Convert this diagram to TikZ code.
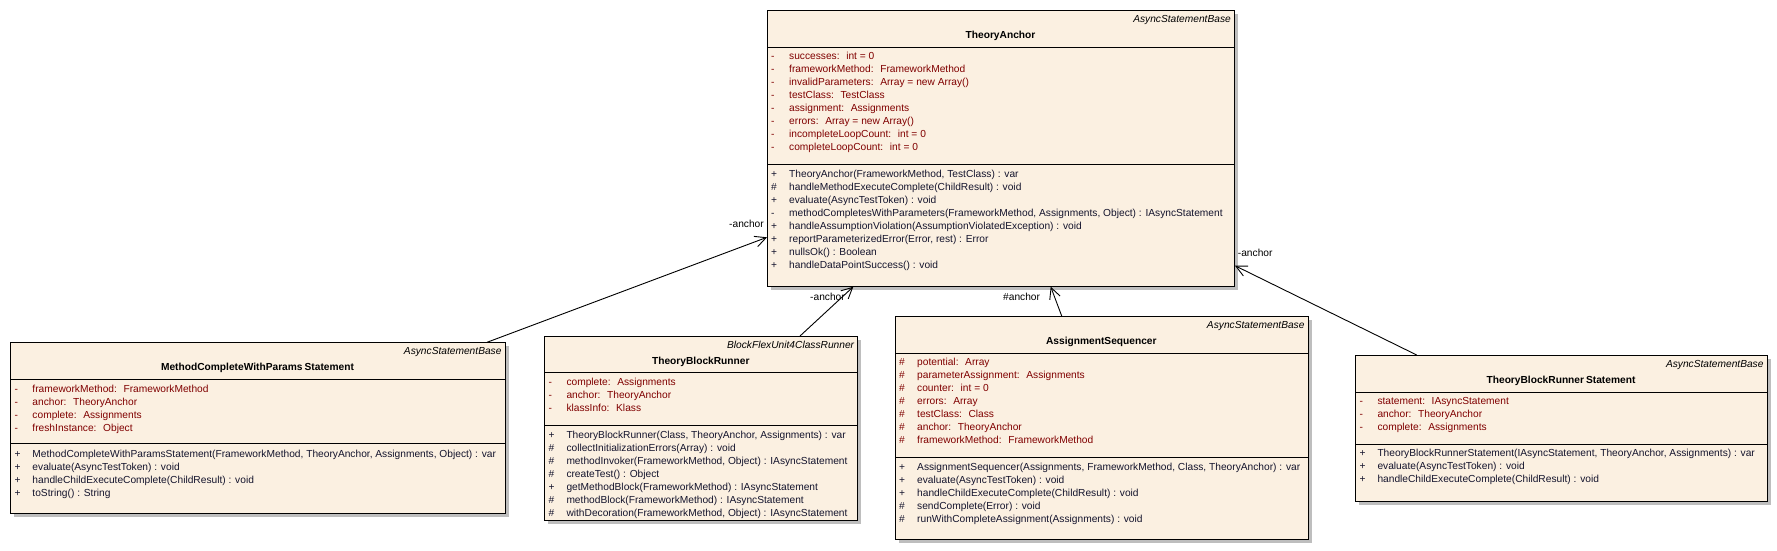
\documentclass[tikz,border=0pt]{standalone}
\usepackage{fontspec}
\setmainfont{Liberation Sans}
\usetikzlibrary{arrows.meta,calc}
\definecolor{classfill}{RGB}{251,240,225}
\definecolor{attrred}{RGB}{128,0,0}
\definecolor{methink}{RGB}{20,20,45}
\definecolor{shadowgray}{RGB}{190,190,190}
\tikzset{
  classbox/.style={draw=black, fill=classfill, line width=1pt, inner sep=0pt, rectangle},
  sepline/.style={draw=black, line width=1pt},
  umltext/.style={inner sep=0pt, font=\fontsize{10.2}{12}\selectfont},
  member/.style={umltext, anchor=mid west},
  stereo/.style={umltext, anchor=mid east, font=\fontsize{10.2}{12}\selectfont\itshape},
  cname/.style={umltext, anchor=mid, font=\fontsize{10.2}{12}\selectfont\bfseries},
  rolelbl/.style={umltext, text=black},
  assoc/.style={draw=black, line width=0.9pt, -{Straight Barb[length=11pt,width=11pt]}},
}
% box: name, left, top, right, bottom, sep1, sep2
\newcommand\umlbox[7]{%
  \def\bl{#2}\def\bt{#3}\def\br{#4}%
  \fill[shadowgray] (#2+4,#3+4) rectangle (#4+4,#5+4);
  \node[classbox, minimum width=#4pt-#2pt, minimum height=#5pt-#3pt, anchor=north west] (#1) at (#2,#3) {};
  \draw[sepline] (#2,#6) -- (#4,#6);
  \draw[sepline] (#2,#7) -- (#4,#7);
}
% head: name prefix, stereotype, class name
\newcommand\umlhead[3]{%
  \node[stereo] (#1-st) at (\br-3,\bt+9.5) {#2};
  \node[cname] (#1-nm) at ({(\bl+\br)/2},\bt+25.5) {#3};
}
\newcommand\startrows[1]{\pgfmathsetmacro\rowy{#1}}
% row: node name, colour, visibility, text
\newcommand\umlrow[4]{%
  \node[member, text=#2] (#1) at (\bl+4,\rowy) {\makebox[18pt][l]{#3}#4};
  \pgfmathsetmacro\rowy{\rowy+13}%
}
\begin{document}
\begin{tikzpicture}[x=1pt,y=-1pt]
\useasboundingbox (0,0) rectangle (1777,550);
\fill[white] (0,0) rectangle (1777,550);

% ---------------- TheoryAnchor
\umlbox{ta}{767}{10.3}{1234}{285.7}{47.7}{164.7}
\umlhead{ta}{AsyncStatementBase}{TheoryAnchor}
\startrows{57.3}
\umlrow{ta-a1}{attrred}{-}{successes:~ int = 0}
\umlrow{ta-a2}{attrred}{-}{frameworkMethod:~ FrameworkMethod}
\umlrow{ta-a3}{attrred}{-}{invalidParameters:~ Array = new Array()}
\umlrow{ta-a4}{attrred}{-}{testClass:~ TestClass}
\umlrow{ta-a5}{attrred}{-}{assignment:~ Assignments}
\umlrow{ta-a6}{attrred}{-}{errors:~ Array = new Array()}
\umlrow{ta-a7}{attrred}{-}{incompleteLoopCount:~ int = 0}
\umlrow{ta-a8}{attrred}{-}{completeLoopCount:~ int = 0}
\startrows{174.7}
\umlrow{ta-m1}{methink}{+}{TheoryAnchor(FrameworkMethod, TestClass) : var}
\umlrow{ta-m2}{methink}{\#}{handleMethodExecuteComplete(ChildResult) : void}
\umlrow{ta-m3}{methink}{+}{evaluate(AsyncTestToken) : void}
\umlrow{ta-m4}{methink}{-}{methodCompletesWithParameters(FrameworkMethod, Assignments, Object) : IAsyncStatement}
\umlrow{ta-m5}{methink}{+}{handleAssumptionViolation(AssumptionViolatedException) : void}
\umlrow{ta-m6}{methink}{+}{reportParameterizedError(Error, rest) : Error}
\umlrow{ta-m7}{methink}{+}{nullsOk() : Boolean}
\umlrow{ta-m8}{methink}{+}{handleDataPointSuccess() : void}

% ---------------- MethodCompleteWithParamsStatement
\umlbox{mc}{10.3}{342.3}{504.7}{512.7}{379}{443.3}
\umlhead{mc}{AsyncStatementBase}{MethodCompleteWithParams\kern2pt Statement}
\startrows{390}
\umlrow{mc-a1}{attrred}{-}{frameworkMethod:~ FrameworkMethod}
\umlrow{mc-a2}{attrred}{-}{anchor:~ TheoryAnchor}
\umlrow{mc-a3}{attrred}{-}{complete:~ Assignments}
\umlrow{mc-a4}{attrred}{-}{freshInstance:~ Object}
\startrows{455}
\umlrow{mc-m1}{methink}{+}{MethodCompleteWithParamsStatement(FrameworkMethod, TheoryAnchor, Assignments, Object) : var}
\umlrow{mc-m2}{methink}{+}{evaluate(AsyncTestToken) : void}
\umlrow{mc-m3}{methink}{+}{handleChildExecuteComplete(ChildResult) : void}
\umlrow{mc-m4}{methink}{+}{toString() : String}

% ---------------- TheoryBlockRunner
\umlbox{tbr}{544.3}{336}{857.3}{520}{372.3}{425.3}
\umlhead{tbr}{BlockFlexUnit4ClassRunner}{TheoryBlockRunner}
\startrows{383.3}
\umlrow{tbr-a1}{attrred}{-}{complete:~ Assignments}
\umlrow{tbr-a2}{attrred}{-}{anchor:~ TheoryAnchor}
\umlrow{tbr-a3}{attrred}{-}{klassInfo:~ Klass}
\startrows{436}
\umlrow{tbr-m1}{methink}{+}{TheoryBlockRunner(Class, TheoryAnchor, Assignments) : var}
\umlrow{tbr-m2}{methink}{\#}{collectInitializationErrors(Array) : void}
\umlrow{tbr-m3}{methink}{\#}{methodInvoker(FrameworkMethod, Object) : IAsyncStatement}
\umlrow{tbr-m4}{methink}{\#}{createTest() : Object}
\umlrow{tbr-m5}{methink}{+}{getMethodBlock(FrameworkMethod) : IAsyncStatement}
\umlrow{tbr-m6}{methink}{\#}{methodBlock(FrameworkMethod) : IAsyncStatement}
\umlrow{tbr-m7}{methink}{\#}{withDecoration(FrameworkMethod, Object) : IAsyncStatement}

% ---------------- AssignmentSequencer
\umlbox{as}{895}{316}{1307.7}{539.3}{353.3}{457.3}
\umlhead{as}{AsyncStatementBase}{AssignmentSequencer}
\startrows{363.3}
\umlrow{as-a1}{attrred}{\#}{potential:~ Array}
\umlrow{as-a2}{attrred}{\#}{parameterAssignment:~ Assignments}
\umlrow{as-a3}{attrred}{\#}{counter:~ int = 0}
\umlrow{as-a4}{attrred}{\#}{errors:~ Array}
\umlrow{as-a5}{attrred}{\#}{testClass:~ Class}
\umlrow{as-a6}{attrred}{\#}{anchor:~ TheoryAnchor}
\umlrow{as-a7}{attrred}{\#}{frameworkMethod:~ FrameworkMethod}
\startrows{467.7}
\umlrow{as-m1}{methink}{+}{AssignmentSequencer(Assignments, FrameworkMethod, Class, TheoryAnchor) : var}
\umlrow{as-m2}{methink}{+}{evaluate(AsyncTestToken) : void}
\umlrow{as-m3}{methink}{+}{handleChildExecuteComplete(ChildResult) : void}
\umlrow{as-m4}{methink}{\#}{sendComplete(Error) : void}
\umlrow{as-m5}{methink}{\#}{runWithCompleteAssignment(Assignments) : void}

% ---------------- TheoryBlockRunnerStatement
\umlbox{tbrs}{1355.3}{355}{1766.7}{500.7}{392}{444}
\umlhead{tbrs}{AsyncStatementBase}{TheoryBlockRunner\kern2pt Statement}
\startrows{402.3}
\umlrow{tbrs-a1}{attrred}{-}{statement:~ IAsyncStatement}
\umlrow{tbrs-a2}{attrred}{-}{anchor:~ TheoryAnchor}
\umlrow{tbrs-a3}{attrred}{-}{complete:~ Assignments}
\startrows{454.3}
\umlrow{tbrs-m1}{methink}{+}{TheoryBlockRunnerStatement(IAsyncStatement, TheoryAnchor, Assignments) : var}
\umlrow{tbrs-m2}{methink}{+}{evaluate(AsyncTestToken) : void}
\umlrow{tbrs-m3}{methink}{+}{handleChildExecuteComplete(ChildResult) : void}

% ---------------- associations
\coordinate (c1s) at ([xshift=476.7pt]mc.north west);
\coordinate (c1e) at ([yshift=-227pt]ta.north west);
\coordinate (c2s) at ([xshift=255.7pt]tbr.north west);
\coordinate (c2e) at ([xshift=86.3pt]ta.south west);
\coordinate (c3s) at ([xshift=166.7pt]as.north west);
\coordinate (c3e) at ([xshift=283.7pt]ta.south west);
\coordinate (c4s) at ([xshift=61.4pt]tbrs.north west);
\coordinate (c4e) at ([yshift=-255.4pt]ta.north east);
\draw[assoc] (c1s) -- (c1e);
\draw[assoc] (c2s) -- (c2e);
\draw[assoc] (c3s) -- (c3e);
\draw[assoc] (c4s) -- (c4e);
\node[rolelbl, anchor=mid east] (l1) at (764,225) {-anchor};
\node[rolelbl, anchor=mid west] (l2) at (810,297.7) {-anchor};
\node[rolelbl, anchor=mid west] (l3) at (1003,297.7) {\#anchor};
\node[rolelbl, anchor=mid west] (l4) at (1237.7,254) {-anchor};
\end{tikzpicture}
\end{document}
